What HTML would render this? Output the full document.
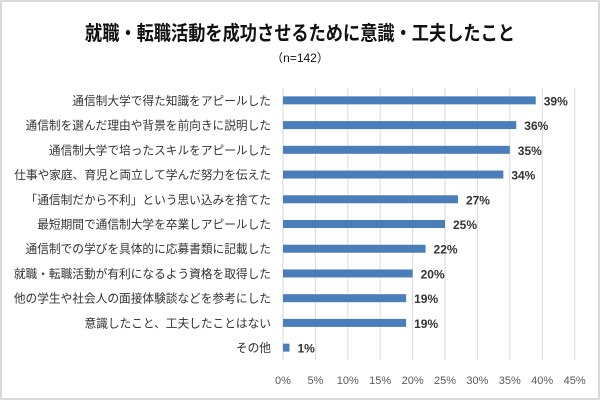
<!DOCTYPE html>
<html><head><meta charset="utf-8"><style>
body{margin:0;background:#fff}
#c{position:relative;width:600px;height:400px;box-sizing:border-box;border:2px solid #d9d9d9;font-family:"Liberation Sans","Noto Sans CJK JP",sans-serif;overflow:hidden}
svg text{font-family:"Liberation Sans","Noto Sans CJK JP",sans-serif}
</style></head><body>
<div id="c">
<svg id="s" width="596" height="396" viewBox="2 2 596 396">
<text x="300" y="40" text-anchor="middle" font-size="20" font-weight="bold" fill="#111" textLength="430" lengthAdjust="spacingAndGlyphs">就職・転職活動を成功させるために意識・工夫したこと</text>
<text x="300" y="62" text-anchor="middle" font-size="12" fill="#111">（n=142）</text>
<g id="grid"></g><g id="bars"></g><g id="labels"></g><g id="ticks"></g>
</svg>
</div>
<script>
const categories=["通信制大学で得た知識をアピールした","通信制を選んだ理由や背景を前向きに説明した","通信制大学で培ったスキルをアピールした","仕事や家庭、育児と両立して学んだ努力を伝えた","「通信制だから不利」という思い込みを捨てた","最短期間で通信制大学を卒業しアピールした","通信制での学びを具体的に応募書類に記載した","就職・転職活動が有利になるよう資格を取得した","他の学生や社会人の面接体験談などを参考にした","意識したこと、工夫したことはない","その他"];
const values=[39,36,35,34,27,25,22,20,19,19,1];
const valueLabels=["39%","36%","35%","34%","27%","25%","22%","20%","19%","19%","1%"];
const tickValues=[0,5,10,15,20,25,30,35,40,45];
const tickLabels=["0%","5%","10%","15%","20%","25%","30%","35%","40%","45%"];
const NS="http://www.w3.org/2000/svg";
const X0=283,X1=574.6,XMAX=45,PTOP=88,PBOT=360;
const xs=v=>X0+(v/XMAX)*(X1-X0);
const band=(PBOT-PTOP)/categories.length;
const yc=i=>PTOP+band*(i+0.5);
function mk(t,a,p){const e=document.createElementNS(NS,t);for(const k in a)e.setAttribute(k,a[k]);p.appendChild(e);return e;}
const G=document.getElementById('grid'),B=document.getElementById('bars'),L=document.getElementById('labels'),T=document.getElementById('ticks');
tickValues.forEach((v,i)=>{
 const l=mk('line',{x1:xs(v),x2:xs(v),y1:PTOP,y2:PBOT,stroke:'#d9d9d9','stroke-width':1},G);
 
 
 const t=mk('text',{x:xs(v),y:384,'text-anchor':'middle','font-size':11,fill:'#595959'},T);
 t.textContent=tickLabels[i];
 
 
});
categories.forEach((c,i)=>{
 const y=yc(i);
 const r=mk('rect',{x:X0,y:y-4,width:xs(values[i])-X0,height:8,fill:'#4a7ebb'},B);
 
 
 const t=mk('text',{x:271,y:y+4.5,'text-anchor':'end','font-size':11.7,fill:'#333'},L);
 t.textContent=c;
 
 
 const v=mk('text',{x:xs(values[i])+8,y:y+5,'font-size':12,'font-weight':'bold',fill:'#333'},L);
 v.textContent=valueLabels[i];
 
 
});
</script>
</body></html>
